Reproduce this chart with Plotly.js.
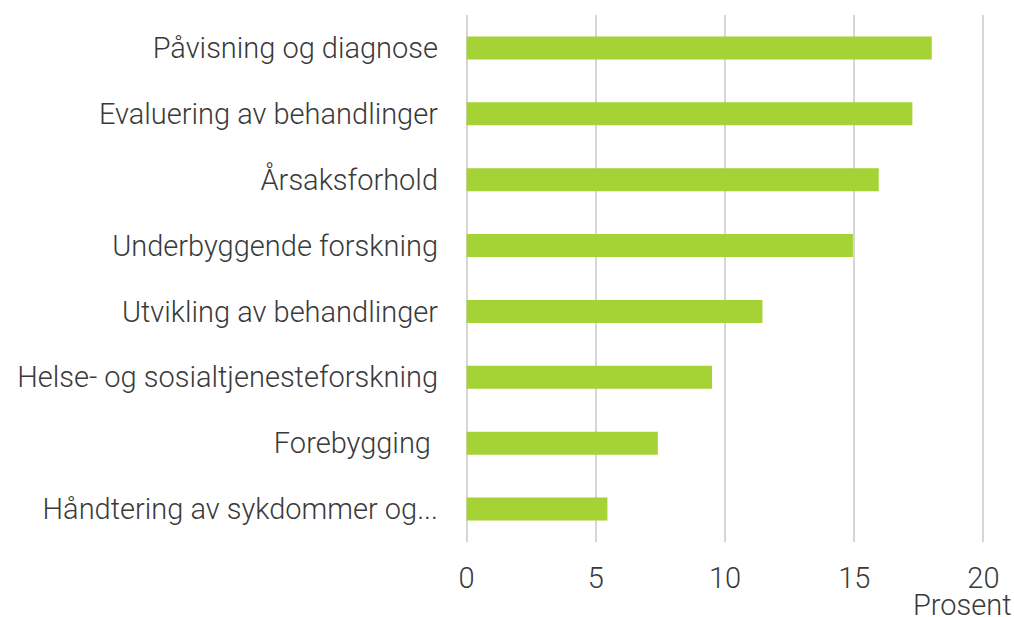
<!DOCTYPE html>
<html><head><meta charset="utf-8">
<script src="https://cdn.plot.ly/plotly-3.0.1.min.js"></script>
<style>body{margin:0;background:#fff}#c{width:1014px;height:617px}</style>
</head><body><div id="c"></div>
<script>
const categories = ["Påvisning og diagnose","Evaluering av behandlinger","Årsaksforhold","Underbyggende forskning","Utvikling av behandlinger","Helse- og sosialtjenesteforskning","Forebygging ","Håndtering av sykdommer og..."];
const values = [18.0, 17.25, 15.95, 14.95, 11.45, 9.5, 7.4, 5.45];
const tickVals = [0,5,10,15,20];
const tickText = ["0","5","10","15","20"];
const axisTitle = "Prosent";

const font = {family:"Roboto, 'Open Sans', sans-serif", size:29, color:"#3a3a3a", weight:300};
Plotly.newPlot('c', [{
  type:'bar', orientation:'h', x:values, y:categories,
  marker:{color:'#a5d234'}, hoverinfo:'x+y'
}], {
  width:1014, height:617,
  margin:{l:464, r:28, t:15, b:75},
  bargap:0.65,
  showlegend:false,
  paper_bgcolor:'#fff', plot_bgcolor:'#fff',
  font:font,
  xaxis:{range:[-0.1,20.1], tickvals:tickVals, ticktext:tickText, showgrid:true, gridcolor:'#d6d6d6', gridwidth:2,
    zeroline:false, showline:false, ticks:'', ticklabelstandoff:16, tickfont:font, fixedrange:true},
  yaxis:{autorange:'reversed', type:'category', showgrid:false, zeroline:false, showline:false, ticks:'',
    ticklabelstandoff:25, tickfont:font, fixedrange:true},
  annotations:[{text:axisTitle, xref:'paper', yref:'paper', x:1.053, y:0, yshift:-63, xanchor:'right', yanchor:'middle', showarrow:false, font:font}]
}, {staticPlot:true});
</script></body></html>
